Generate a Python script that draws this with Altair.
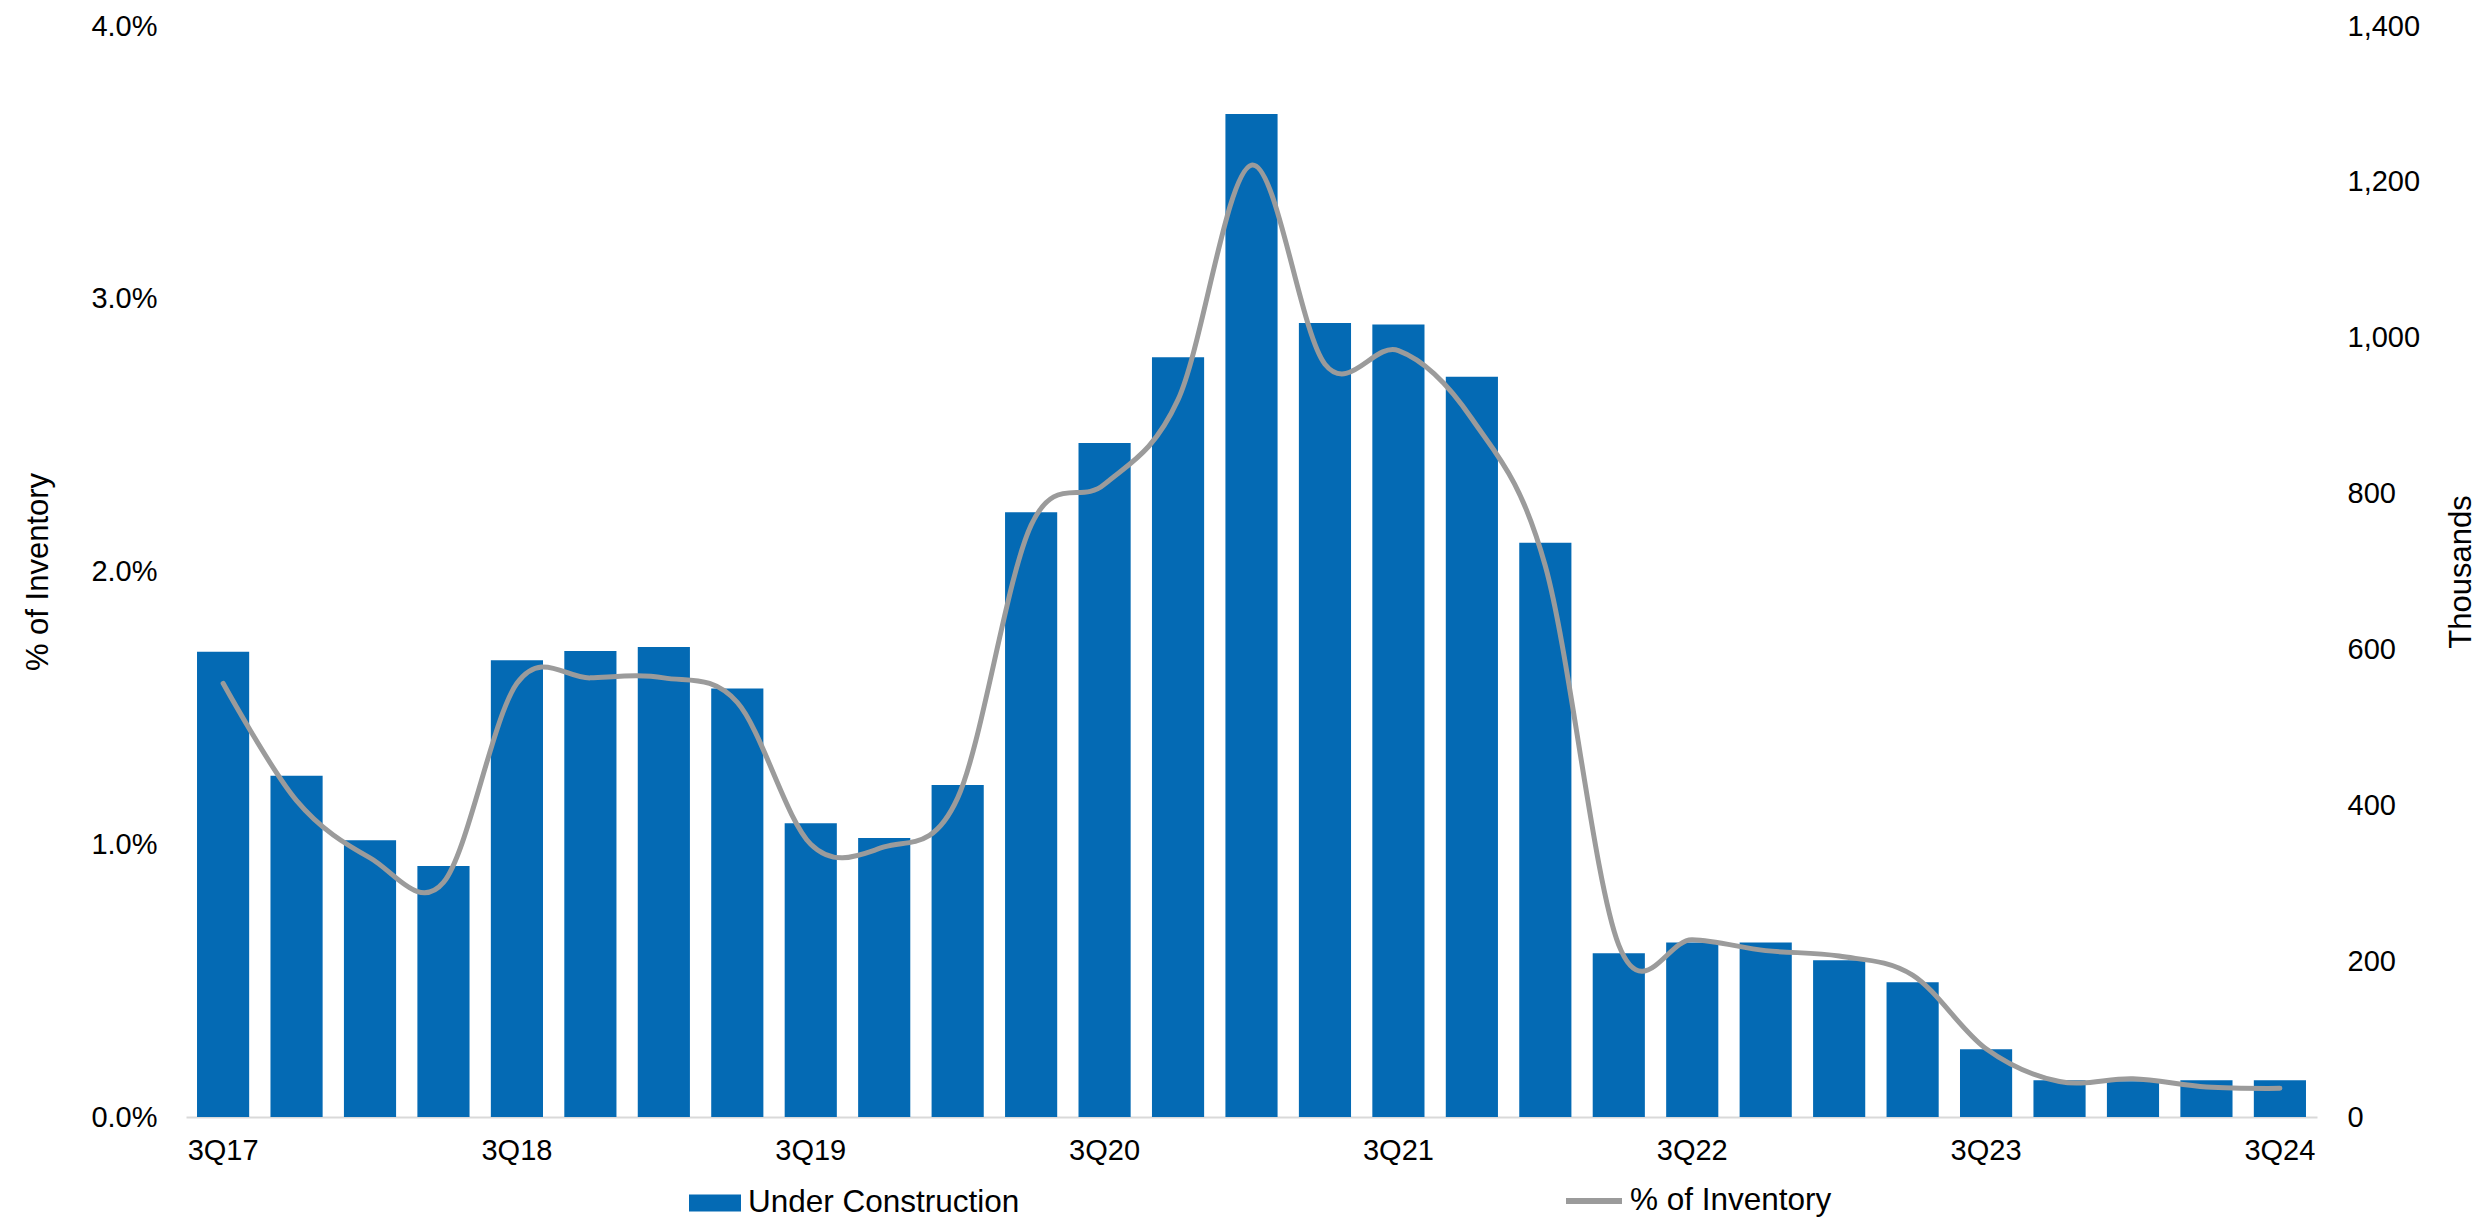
import altair as alt
import pandas as pd

quarters = [
    "3Q17", "4Q17", "1Q18", "2Q18", "3Q18", "4Q18", "1Q19", "2Q19", "3Q19", "4Q19",
    "1Q20", "2Q20", "3Q20", "4Q20", "1Q21", "2Q21", "3Q21", "4Q21", "1Q22", "2Q22",
    "3Q22", "4Q22", "1Q23", "2Q23", "3Q23", "4Q23", "1Q24", "2Q24", "3Q24",
]
under_construction = [
    597, 438, 355, 322, 586, 598, 603, 550, 377, 358,
    426, 776, 865, 975, 1287, 1019, 1017, 950, 737, 210,
    224, 224, 201, 173, 87, 47, 46, 47, 47,
]
pct_inventory = [
    1.59, 1.16, 0.95, 0.86, 1.59, 1.61, 1.61, 1.52, 1.00, 0.99,
    1.17, 2.17, 2.32, 2.63, 3.49, 2.76, 2.81, 2.56, 2.02, 0.63,
    0.65, 0.61, 0.59, 0.52, 0.25, 0.13, 0.14, 0.11, 0.105,
]
tick_quarters = ["3Q17", "3Q18", "3Q19", "3Q20", "3Q21", "3Q22", "3Q23", "3Q24"]
pct_ticks = [0, 1, 2, 3, 4]
uc_ticks = [0, 200, 400, 600, 800, 1000, 1200, 1400]

df = pd.DataFrame({"quarter": quarters, "uc": under_construction, "pct": pct_inventory})

BLUE = "#046AB4"
GRAY = "#9B9B9B"
FONT = "Liberation Sans"
W, H = 2131, 1091

x_enc = alt.X(
    "quarter:N",
    sort=quarters,
    scale=alt.Scale(paddingInner=0.29, paddingOuter=0.15),
    axis=alt.Axis(
        title=None, values=tick_quarters, labelAngle=0, labelFontSize=29,
        labelFont=FONT, labelColor="#000000", labelPadding=19, ticks=False,
        domain=True, domainColor="#D9D9D9", domainWidth=2, grid=False,
    ),
)

bars = (
    alt.Chart(df)
    .transform_calculate(series="'Under Construction'")
    .mark_bar(color=BLUE)
    .encode(
        x=x_enc,
        y=alt.Y(
            "uc:Q",
            scale=alt.Scale(domain=[0, 1400], nice=False),
            axis=alt.Axis(
                orient="right", title="Thousands", values=uc_ticks, format=",d",
                labelFontSize=29, labelFont=FONT, labelColor="#000000",
                labelPadding=30, ticks=False, domain=False, grid=False,
                titleFontSize=31, titleFont=FONT, titleFontWeight="normal",
                titleColor="#000000", titleAngle=270, titleX=144, titleY=H / 2,
                titleAlign="center", titleBaseline="middle",
            ),
        ),
        fill=alt.Fill(
            "series:N",
            scale=alt.Scale(domain=["Under Construction"], range=[BLUE]),
            legend=alt.Legend(
                orient="none", legendX=503, legendY=1151, title=None,
                direction="horizontal", labelFontSize=31.5, labelFont=FONT,
                labelColor="#000000", labelOffset=7, padding=0, labelLimit=1000,
                symbolType="M-1,-0.33H1V0.33H-1Z", symbolSize=2704,
                symbolStrokeWidth=0,
            ),
        ),
    )
)

line = (
    alt.Chart(df)
    .transform_calculate(series="'% of Inventory'")
    .mark_line(interpolate="cardinal", strokeWidth=5, strokeCap="round", strokeJoin="round")
    .encode(
        x=x_enc,
        y=alt.Y(
            "pct:Q",
            scale=alt.Scale(domain=[0, 4], nice=False),
            axis=alt.Axis(
                orient="left", title="% of Inventory", values=pct_ticks,
                labelExpr="format(datum.value, '.1f') + '%'",
                labelFontSize=29, labelFont=FONT, labelColor="#000000",
                labelPadding=29, ticks=False, domain=False, grid=False,
                titleFontSize=31, titleFont=FONT, titleFontWeight="normal",
                titleColor="#000000", titleAngle=270, titleX=-148, titleY=H / 2,
                titleAlign="center", titleBaseline="middle",
            ),
        ),
        stroke=alt.Stroke(
            "series:N",
            scale=alt.Scale(domain=["% of Inventory"], range=[GRAY]),
            legend=alt.Legend(
                orient="none", legendX=1377, legendY=1144, title=None,
                direction="horizontal", labelFontSize=31.5, labelFont=FONT,
                labelColor="#000000", labelOffset=5, padding=0, labelLimit=1000,
                symbolType="stroke", symbolSize=3136, symbolStrokeWidth=6,
            ),
        ),
    )
)

chart = (
    alt.layer(bars, line)
    .resolve_scale(y="independent", fill="independent", stroke="independent")
    .properties(
        width=W, height=H,
        padding={"left": 186, "top": 26, "right": 167, "bottom": 103},
        autosize=alt.AutoSizeParams(type="none"),
        background="#FFFFFF",
    )
    .configure_view(stroke=None)
)

chart.save("out.html", embed_options={"renderer": "svg", "actions": False})
